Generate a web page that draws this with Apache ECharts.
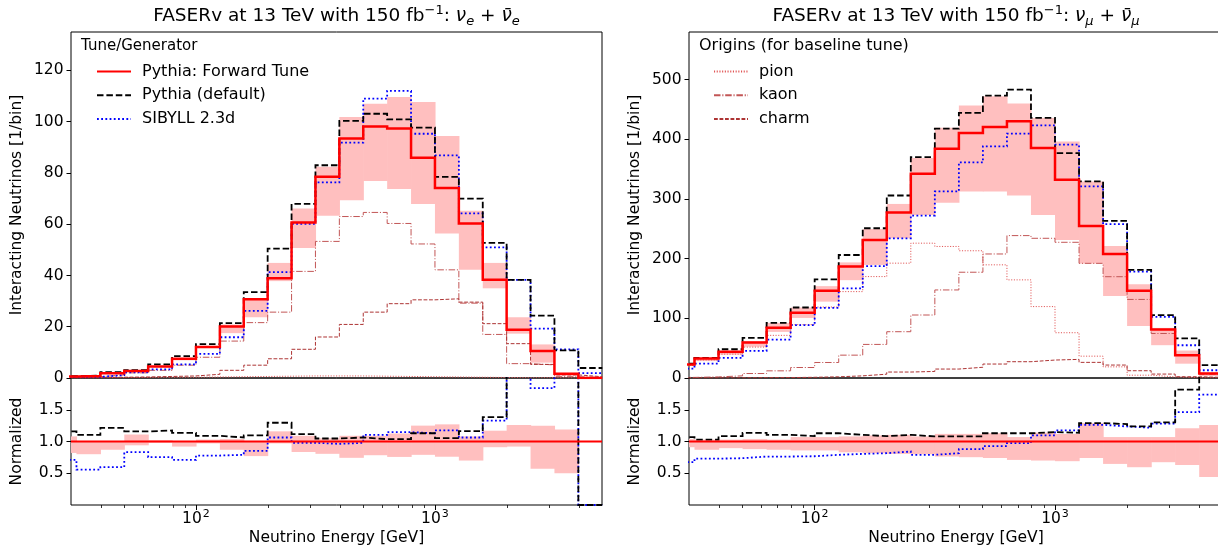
<!DOCTYPE html>
<html><head><meta charset="utf-8">
<script src="https://cdn.jsdelivr.net/npm/echarts@6/dist/echarts.min.js"></script>
<style>html,body{margin:0;padding:0;background:#fff}#c{width:1218px;height:548px}</style>
</head><body><div id="c"></div>
<script>
// Bin edges (GeV), 10 log bins per decade
const edges = [25.12, 31.62, 39.81, 50.12, 63.10, 79.43, 100.0, 125.9, 158.5, 199.5, 251.2, 316.2, 398.1, 501.2, 631.0, 794.3, 1000, 1259, 1585, 1995, 2512, 3162, 3981, 5012];
const xMajorTicks = [100, 1000];
const xMinorTicks = [40, 50, 60, 70, 80, 90, 200, 300, 400, 500, 600, 700, 800, 900, 2000, 3000, 4000];
const yTicksNue = [0, 20, 40, 60, 80, 100, 120];
const yTicksNumu = [0, 100, 200, 300, 400, 500];
const yTicksRatio = [0.5, 1.0, 1.5];

// nu_e panel
const nueForward = [0.6, 0.8, 1.9, 2.7, 4.5, 7.5, 12.1, 20.1, 30.7, 38.9, 60.7, 78.5, 93.4, 98.1, 97.3, 85.9, 74.1, 60.3, 38.3, 18.8, 10.5, 1.7, 0.0];
const nueDefault = [0.7, 0.9, 2.3, 3.1, 5.3, 8.5, 13.2, 21.4, 33.5, 50.5, 67.9, 83.0, 100.3, 103.1, 100.9, 97.7, 78.5, 70.0, 52.7, 38.3, 24.3, 10.8, 3.9];
const nueSibyll = [0.43, 0.45, 1.13, 2.25, 3.4, 5.3, 9.4, 15.9, 26.2, 41.3, 60.1, 76.3, 91.8, 109.0, 112.0, 95.3, 86.9, 64.2, 51.0, 38.3, 19.3, 11.2, 1.9];
const nueBandLo = [0.55, 0.64, 1.65, 2.55, 4.4, 6.9, 11.7, 17.5, 23.7, 37.8, 50.7, 63.3, 69.4, 76.9, 73.7, 67.9, 56.4, 42.2, 35.0, 17.3, 6.0, 0.85, null];
const nueBandHi = [0.65, 0.8, 1.9, 3.0, 4.6, 7.5, 12.5, 20.9, 30.7, 44.9, 66.1, 82.4, 101.8, 107.0, 109.6, 107.7, 94.4, 65.3, 44.9, 23.7, 13.1, 2.0, null];
const nuePion = [0.1, 0.1, 0.2, 0.2, 0.3, 0.3, 0.4, 0.5, 0.6, 0.7, 0.8, 0.8, 0.8, 0.7, 0.6, 0.5, 0.4, 0.3, 0.2, 0.1, 0.1, 0.0, 0.0];
const nueKaon = [0.4, 0.5, 1.2, 2.0, 3.0, 5.0, 8.1, 14.4, 21.6, 25.7, 41.6, 53.3, 63.0, 64.6, 60.3, 52.3, 42.2, 29.2, 17.0, 5.6, 5.1, 0.5, 0.2];
const nueCharm = [0.1, 0.15, 0.3, 0.4, 0.6, 0.8, 1.45, 3.0, 5.0, 7.5, 11.2, 16.0, 20.9, 25.7, 29.0, 30.5, 30.9, 29.6, 21.2, 13.4, 5.3, 1.2, 0.5];
const nueRatioDefault = [1.158, 1.105, 1.216, 1.158, 1.174, 1.137, 1.09, 1.063, 1.095, 1.295, 1.116, 1.047, 1.063, 1.037, 1.037, 1.13, 1.053, 1.163, 1.384, 2.04, 2.31, 6.35, 0];
const nueRatioSibyll = [0.711, 0.558, 0.595, 0.832, 0.753, 0.711, 0.779, 0.79, 0.853, 1.063, 0.979, 0.963, 0.979, 1.105, 1.147, 1.13, 1.174, 1.063, 1.33, 2.04, 1.84, 6.6, 0];
const nueRatioLo = [0.82, 0.80, 0.87, 0.94, 0.98, 0.92, 0.97, 0.87, 0.77, 0.97, 0.835, 0.806, 0.743, 0.784, 0.757, 0.79, 0.76, 0.70, 0.91, 0.92, 0.57, 0.50, null];
const nueRatioHi = [1.08, 1.00, 1.00, 1.11, 1.02, 1.00, 1.03, 1.04, 1.00, 1.16, 1.09, 1.05, 1.09, 1.09, 1.126, 1.25, 1.27, 1.08, 1.17, 1.26, 1.25, 1.19, null];

// nu_mu panel
const numuForward = [22.5, 32.5, 43.8, 59.5, 84.2, 109.3, 146.3, 186.7, 231.5, 277.5, 342.4, 384.4, 410.7, 420.8, 430.3, 385.5, 332.3, 255.0, 207.9, 146.3, 81.4, 38.2, 7.4];
const numuDefault = [24.0, 33.6, 48.2, 67.2, 92.5, 118.2, 165.3, 206.2, 251.0, 305.9, 370.3, 417.9, 444.3, 473.4, 483.5, 435.9, 377.1, 329.5, 263.4, 181.1, 105.5, 66.3, 21.5];
const numuSibyll = [15.8, 24.2, 33.6, 45.4, 64.4, 88.5, 117.6, 150.1, 187.6, 234.2, 272.3, 312.7, 361.4, 388.3, 409.6, 423.6, 391.2, 321.3, 258.0, 178.3, 102.6, 54.9, 13.0];
const numuBandLo = [20.5, 28.3, 39.2, 52.4, 77.3, 100.7, 128.0, 164.0, 189.5, 234.2, 273.4, 293.9, 312.7, 312.7, 306.0, 273.4, 231.5, 191.9, 137.3, 87.0, 55.0, 24.0, 3.3];
const numuBandHi = [23.4, 33.5, 45.1, 61.9, 92.4, 118.2, 154.0, 193.8, 249.7, 291.8, 368.7, 419.4, 456.6, 472.3, 460.0, 435.9, 396.6, 329.5, 221.3, 157.0, 84.0, 46.0, 9.3];
const numuPion = [21.3, 30.3, 40.0, 51.8, 71.5, 89.5, 119.0, 144.8, 170.0, 192.5, 226.0, 220.5, 213.3, 189.7, 164.5, 119.7, 75.9, 36.6, 18.7, 4.7, 1.9, 0.5, 0.1];
const numuKaon = [1.0, 1.9, 3.6, 7.5, 12.0, 17.6, 26.0, 38.3, 56.3, 77.6, 105.6, 147.6, 177.3, 207.9, 238.7, 234.2, 227.5, 192.2, 169.8, 131.7, 74.6, 38.2, 6.3];
const numuCharm = [0.1, 0.2, 0.3, 0.5, 0.7, 1.2, 2.0, 3.6, 6.4, 10.0, 11.0, 15.0, 18.0, 23.4, 27.3, 30.1, 31.2, 26.2, 21.7, 12.2, 6.6, 2.1, 1.0];
const numuRatioDefault = [1.068, 1.03, 1.084, 1.137, 1.105, 1.084, 1.13, 1.105, 1.084, 1.105, 1.08, 1.08, 1.08, 1.13, 1.13, 1.147, 1.137, 1.29, 1.274, 1.237, 1.30, 1.816, 2.9];
const numuRatioSibyll = [0.674, 0.73, 0.737, 0.763, 0.763, 0.768, 0.79, 0.805, 0.816, 0.842, 0.79, 0.816, 0.879, 0.926, 0.974, 1.095, 1.174, 1.263, 1.237, 1.216, 1.28, 1.463, 1.737];
const numuRatioLo = [0.91, 0.87, 0.895, 0.88, 0.87, 0.86, 0.86, 0.83, 0.816, 0.805, 0.80, 0.763, 0.753, 0.74, 0.71, 0.70, 0.69, 0.74, 0.647, 0.595, 0.674, 0.63, 0.44];
const numuRatioHi = [1.04, 1.03, 1.03, 1.04, 1.03, 1.07, 1.07, 1.08, 1.095, 1.105, 1.08, 1.12, 1.12, 1.13, 1.07, 1.14, 1.12, 1.29, 1.07, 1.07, 1.07, 1.21, 1.26];

const unity = 1;
const XMIN = 30, XMAX = 5000;
const FONT = 'DejaVu Sans';

const ST = {
  fwd:   {color: '#ff0000', width: 2.5, type: 'solid'},
  def:   {color: '#000000', width: 1.8, type: [6.5, 2.9]},
  sib:   {color: '#0000ff', width: 1.8, type: [1.8, 2.4]},
  pion:  {color: '#e05555', width: 1, type: [1.1, 1.6]},
  kaon:  {color: '#c25656', width: 1, type: [6.5, 1.8, 1.1, 1.8]},
  charm: {color: '#ad3434', width: 1, type: [3.8, 1.7]}
};

function steps(vals) {
  const d = vals.map((v, i) => [edges[i], v]);
  d.push([edges[vals.length], vals[vals.length - 1]]);
  return d;
}
function stepLine(name, vals, xi, yi, st, z) {
  return {
    type: 'line', name: name, xAxisIndex: xi, yAxisIndex: yi, data: steps(vals),
    step: 'end', symbol: 'none', showSymbol: false, clip: true, silent: true, z: z,
    color: st.color,
    lineStyle: {color: st.color, width: st.width, type: st.type, cap: 'butt', join: 'miter'},
    animation: false
  };
}
function band(lo, hi, xi, yi) {
  return {
    type: 'custom', xAxisIndex: xi, yAxisIndex: yi, z: 1, silent: true, animation: false,
    encode: {x: [0, 1], y: [2, 3]},
    data: lo.map((l, i) => [edges[i], edges[i + 1], l, hi[i]]).filter(d => d[2] != null),
    renderItem: function (params, api) {
      const a = api.coord([api.value(0), api.value(3)]);
      const b = api.coord([api.value(1), api.value(2)]);
      const cs = params.coordSys;
      const x0 = Math.max(a[0], cs.x), x1 = Math.min(b[0] + 0.6, cs.x + cs.width);
      const y0 = Math.max(a[1], cs.y), y1 = Math.min(b[1], cs.y + cs.height);
      if (x1 <= x0 || y1 <= y0) return null;
      return {type: 'rect', shape: {x: x0, y: y0, width: x1 - x0, height: y1 - y0}, style: {fill: '#ffbfbf'}};
    }
  };
}

const tickLabelStyle = {fontSize: 15.5, fontFamily: FONT, color: '#000'};
function xHidden(g) {
  return {type: 'log', logBase: 10, gridIndex: g, min: XMIN, max: XMAX,
    axisLine: {show: false}, axisTick: {show: false}, axisLabel: {show: false}, splitLine: {show: false}};
}
function xMajor(g) {
  return {type: 'log', logBase: 10, gridIndex: g, min: XMIN, max: XMAX, position: 'bottom',
    axisLine: {show: false},
    axisTick: {show: true, inside: false, length: 5, customValues: xMajorTicks, lineStyle: {color: '#000', width: 1}},
    axisLabel: {show: true, customValues: xMajorTicks, margin: 4,
      formatter: v => '{b|10}{s|' + Math.round(Math.log10(v)) + '}',
      rich: {b: {fontSize: 15.5, fontFamily: FONT, color: '#000', lineHeight: 20},
             s: {fontSize: 11, fontFamily: FONT, color: '#000', verticalAlign: 'top', lineHeight: 20, padding: [0, 0, 7, 1]}}},
    splitLine: {show: false},
    name: 'Neutrino Energy [GeV]', nameLocation: 'middle', nameGap: 25,
    nameTextStyle: {fontSize: 15.5, fontFamily: FONT, color: '#000'}};
}
function xMinor(g) {
  return {type: 'log', logBase: 10, gridIndex: g, min: XMIN, max: XMAX, position: 'bottom',
    axisLine: {show: false},
    axisTick: {show: true, inside: false, length: 3, customValues: xMinorTicks, lineStyle: {color: '#000', width: 0.8}},
    axisLabel: {show: false}, splitLine: {show: false}};
}
function yAx(g, max, ticks, name, fmt, interval) {
  return {type: 'value', gridIndex: g, min: 0, max: max, interval: interval,
    axisLine: {show: false},
    axisTick: {show: true, inside: false, length: 4.5, customValues: ticks, lineStyle: {color: '#000', width: 1}},
    axisLabel: Object.assign({customValues: ticks, margin: 7.5, formatter: fmt}, tickLabelStyle),
    splitLine: {show: false},
    name: name, nameLocation: 'middle', nameGap: 46,
    nameTextStyle: {fontSize: 15.5, fontFamily: FONT, color: '#000'}};
}
const gridBase = {show: true, borderColor: '#000', borderWidth: 1, backgroundColor: 'transparent', containLabel: false, outerBoundsMode: 'none'};

const titleRich = {
  t: {fontSize: 18.5, fontFamily: FONT, color: '#000', lineHeight: 24},
  sup: {fontSize: 13, fontFamily: FONT, color: '#000', verticalAlign: 'top', lineHeight: 24, padding: [0, 0, 9, 0]},
  m: {fontSize: 18.5, fontFamily: FONT, fontStyle: 'italic', color: '#000', lineHeight: 24},
  sub: {fontSize: 13, fontFamily: FONT, fontStyle: 'italic', color: '#000', lineHeight: 24, verticalAlign: 'bottom', padding: [0, 0, 0, 0]}
};
function titleText(flav) {
  return '{t|FASERv at 13 TeV with 150 fb}{sup|\u22121}{t|: }{m|\u03bd}{sub|' + flav + '}{t| + }{m|\u03bd\u0304}{sub|' + flav + '}';
}

const series = [
  band(nueBandLo, nueBandHi, 0, 0),
  stepLine('pion', nuePion, 0, 0, ST.pion, 2),
  stepLine('kaon', nueKaon, 0, 0, ST.kaon, 2),
  stepLine('charm', nueCharm, 0, 0, ST.charm, 2),
  stepLine('SIBYLL 2.3d', nueSibyll, 0, 0, ST.sib, 3),
  stepLine('Pythia (default)', nueDefault, 0, 0, ST.def, 3),
  stepLine('Pythia: Forward Tune', nueForward, 0, 0, ST.fwd, 4),

  band(nueRatioLo, nueRatioHi, 1, 1),
  stepLine('SIBYLL 2.3d', nueRatioSibyll, 1, 1, ST.sib, 3),
  stepLine('Pythia (default)', nueRatioDefault, 1, 1, ST.def, 3),
  {type: 'line', name: 'Pythia: Forward Tune', xAxisIndex: 1, yAxisIndex: 1, data: [[XMIN, unity], [XMAX, unity]],
   symbol: 'none', silent: true, z: 4, color: '#ff0000', lineStyle: {color: '#ff0000', width: 2}, animation: false},

  band(numuBandLo, numuBandHi, 3, 2),
  stepLine('pion', numuPion, 3, 2, ST.pion, 2),
  stepLine('kaon', numuKaon, 3, 2, ST.kaon, 2),
  stepLine('charm', numuCharm, 3, 2, ST.charm, 2),
  stepLine('SIBYLL 2.3d', numuSibyll, 3, 2, ST.sib, 3),
  stepLine('Pythia (default)', numuDefault, 3, 2, ST.def, 3),
  stepLine('Pythia: Forward Tune', numuForward, 3, 2, ST.fwd, 4),

  band(numuRatioLo, numuRatioHi, 4, 3),
  stepLine('SIBYLL 2.3d', numuRatioSibyll, 4, 3, ST.sib, 3),
  stepLine('Pythia (default)', numuRatioDefault, 4, 3, ST.def, 3),
  {type: 'line', name: 'Pythia: Forward Tune', xAxisIndex: 4, yAxisIndex: 3, data: [[XMIN, unity], [XMAX, unity]],
   symbol: 'none', silent: true, z: 4, color: '#ff0000', lineStyle: {color: '#ff0000', width: 2}, animation: false}
];

const legendText = {fontSize: 16, fontFamily: FONT, color: '#000', padding: [0, 0, 0, 6]};
const legendItemStyle = {color: 'transparent', borderColor: 'transparent', borderWidth: 0, opacity: 0};
const option = {
  animation: false,
  backgroundColor: '#ffffff',
  grid: [
    Object.assign({left: 71, top: 32, width: 531, height: 346}, gridBase),
    Object.assign({left: 71, top: 378, width: 531, height: 127}, gridBase),
    Object.assign({left: 689, top: 32, width: 534, height: 346}, gridBase),
    Object.assign({left: 689, top: 378, width: 534, height: 127}, gridBase)
  ],
  xAxis: [xHidden(0), xMajor(1), xMinor(1), xHidden(2), xMajor(3), xMinor(3)],
  yAxis: [
    yAx(0, 135, yTicksNue, 'Interacting Neutrinos [1/bin]', v => String(v), 20),
    yAx(1, 2, yTicksRatio, 'Normalized', v => v.toFixed(1), 0.5),
    yAx(2, 580, yTicksNumu, 'Interacting Neutrinos [1/bin]', v => String(v), 100),
    yAx(3, 2, yTicksRatio, 'Normalized', v => v.toFixed(1), 0.5)
  ],
  legend: [
    {data: ['Pythia: Forward Tune', 'Pythia (default)', 'SIBYLL 2.3d'], orient: 'vertical', left: 91, top: 58.5,
     itemWidth: 34, itemHeight: 16, itemGap: 7.7, selectedMode: false, textStyle: legendText, itemStyle: legendItemStyle},
    {data: ['pion', 'kaon', 'charm'], orient: 'vertical', left: 708, top: 58.5,
     itemWidth: 34, itemHeight: 16, itemGap: 7.7, selectedMode: false, textStyle: legendText, itemStyle: legendItemStyle}
  ],
  graphic: [
    {type: 'text', x: 336.5, y: 16, silent: true, style: {text: titleText('e'), rich: titleRich, align: 'center', verticalAlign: 'middle', fill: '#000'}},
    {type: 'text', x: 956, y: 16, silent: true, style: {text: titleText('\u03bc'), rich: titleRich, align: 'center', verticalAlign: 'middle', fill: '#000'}},
    {type: 'text', x: 81, y: 46, silent: true, style: {text: 'Tune/Generator', fontSize: 15, fontFamily: FONT, fill: '#000', align: 'left', verticalAlign: 'middle'}},
    {type: 'text', x: 699, y: 46, silent: true, style: {text: 'Origins (for baseline tune)', fontSize: 16, fontFamily: FONT, fill: '#000', align: 'left', verticalAlign: 'middle'}}
  ],
  series: series
};
const chart = echarts.init(document.getElementById('c'), null, {renderer: 'canvas', width: 1218, height: 548});
chart.setOption(option);
</script>
</body></html>
